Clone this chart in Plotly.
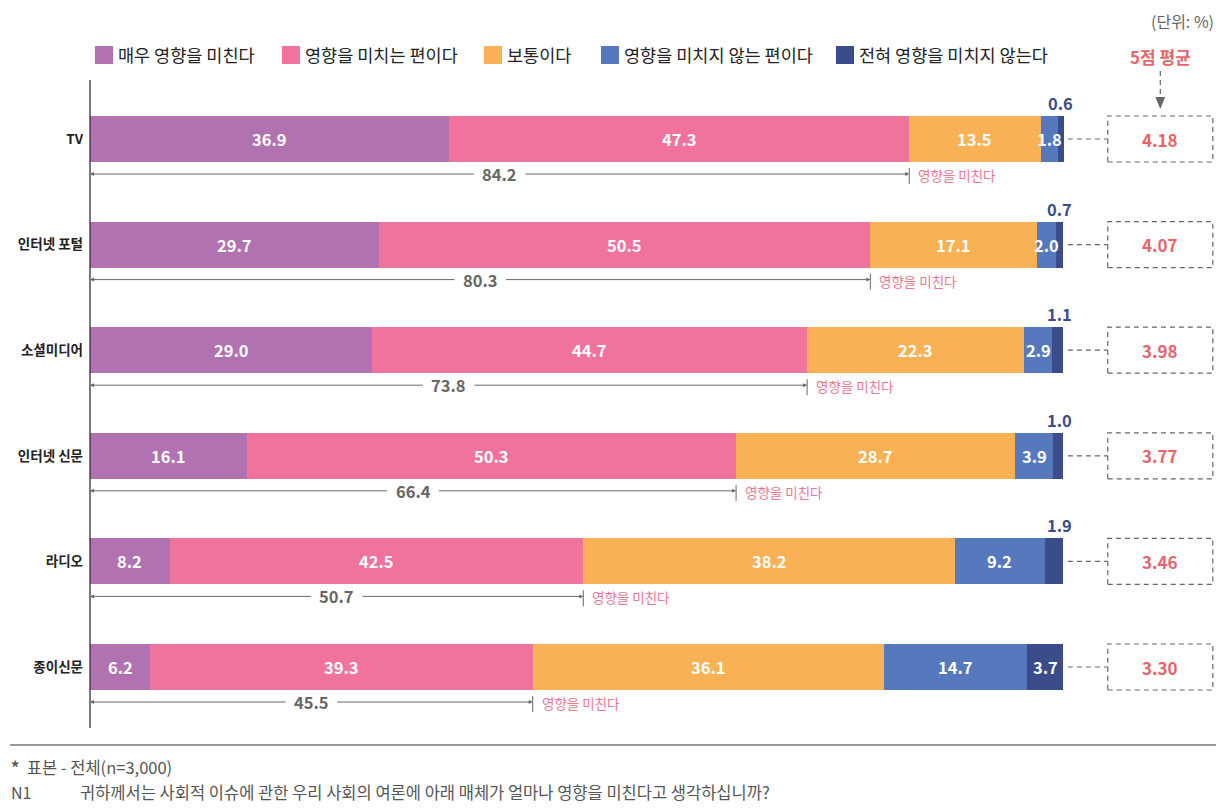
import plotly.graph_objects as go

# 데이터 (단위: %)
media = ["TV", "인터넷 포털", "소셜미디어", "인터넷 신문", "라디오", "종이신문"]
levels = ["매우 영향을 미친다", "영향을 미치는 편이다", "보통이다",
          "영향을 미치지 않는 편이다", "전혀 영향을 미치지 않는다"]
very = [36.9, 29.7, 29.0, 16.1, 8.2, 6.2]
somewhat = [47.3, 50.5, 44.7, 50.3, 42.5, 39.3]
neutral = [13.5, 17.1, 22.3, 28.7, 38.2, 36.1]
not_much = [1.8, 2.0, 2.9, 3.9, 9.2, 14.7]
not_at_all = [0.6, 0.7, 1.1, 1.0, 1.9, 3.7]
influence = [84.2, 80.3, 73.8, 66.4, 50.7, 45.5]
avg5 = ["4.18", "4.07", "3.98", "3.77", "3.46", "3.30"]

series = [very, somewhat, neutral, not_much, not_at_all]
colors = ["#b072b0", "#f0739e", "#f9b155", "#5679bd", "#3a4c8a"]

KR = "Noto Sans CJK KR"
GRAY = "#666666"
RED = "#e8636b"
OFF = 8                        # 페이지 body 여백
W, H = 1231 - OFF, 808 - OFF
L = 90 - OFF
XMAX = (W - L) / 9.73          # 100% 막대 = 973px
BOX_X0, BOX_X1 = 104.6, 115.4  # 평균 박스 위치 (x축 단위)
BOX_C = (BOX_X0 + BOX_X1) / 2
Y0, STEP = 139 - OFF, 105.6
GAP = 2.5                      # 화살표 가운데 숫자 자리 (x축 단위)
DASH = "5px,4px"


def py(pix):
    return 1 - (pix - OFF) / H


def px(pix):
    return (pix - OFF - L) / (W - L)


idx = list(range(len(media)))
fig = go.Figure()
for name, vals, col in zip(levels, series, colors):
    fig.add_trace(go.Bar(
        y=idx, x=vals, name=name, orientation="h",
        marker=dict(color=col, line=dict(width=0)),
        width=0.436, showlegend=False, hoverinfo="x",
    ))

ann = []
shapes = []
for i in idx:
    left = 0
    for k, vals in enumerate(series):
        v = vals[i]
        mid = left + v / 2
        if k == 4 and v < 2:
            ann.append(dict(x=left + v - 0.4, y=i, text=f"<b>{v:.1f}</b>", showarrow=False,
                            yshift=36, font=dict(family=KR, size=16.5, color="#3a4c8a")))
        else:
            ann.append(dict(x=mid, y=i, text=f"<b>{v:.1f}</b>", showarrow=False,
                            font=dict(family=KR, size=16.5, color="white")))
        left += v
    # 영향을 미친다 양방향 화살표
    end = very[i] + somewhat[i]
    for tip, tail in [(0, end / 2 - GAP), (end, end / 2 + GAP)]:
        ann.append(dict(x=tip, y=i, ax=tail, ay=i, axref="x", ayref="y", text="",
                        showarrow=True, arrowhead=2, arrowsize=0.8, arrowwidth=1,
                        arrowcolor=GRAY, standoff=0, startstandoff=0, yshift=-35))
    ann.append(dict(x=end / 2, y=i, text=f"<b>{influence[i]:.1f}</b>", showarrow=False,
                    yshift=-35, font=dict(family=KR, size=16.5, color=GRAY)))
    ann.append(dict(x=end, y=i, text="영향을 미친다", showarrow=False, xanchor="left",
                    xshift=7, yshift=-36, font=dict(family=KR, size=13.5, color="#ec7890")))
    shapes.append(dict(type="line", xref="x", yref="y", ysizemode="pixel", yanchor=i,
                       x0=end, x1=end, y0=-29, y1=-45, line=dict(color=GRAY, width=1)))
    # 평균 박스
    shapes.append(dict(type="line", xref="x", yref="y", x0=100.5, x1=BOX_X0, y0=i, y1=i,
                       line=dict(color=GRAY, width=1.2, dash=DASH)))
    shapes.append(dict(type="rect", xref="x", yref="y", ysizemode="pixel", yanchor=i,
                       x0=BOX_X0, x1=BOX_X1, y0=-23, y1=23,
                       line=dict(color=GRAY, width=1.2, dash=DASH)))
    ann.append(dict(x=BOX_C, y=i, text=f"<b>{avg5[i]}</b>", showarrow=False,
                    font=dict(family=KR, size=17, color=RED)))

# 범례 (수동)
legend_x = [95, 282, 484, 601, 836]
for lx, name, col in zip(legend_x, levels, colors):
    shapes.append(dict(type="rect", xref="paper", yref="paper",
                       x0=px(lx), x1=px(lx + 18), y0=py(64), y1=py(46),
                       fillcolor=col, line=dict(width=0)))
    ann.append(dict(x=px(lx + 21), y=py(55), xref="paper", yref="paper", text=name,
                    showarrow=False, xanchor="left", yanchor="middle",
                    font=dict(family=KR, size=17.5, color="#222222")))

# 5점 평균 헤더
ann.append(dict(x=BOX_C, y=py(56), xref="x", yref="paper", text="<b>5점 평균</b>",
                showarrow=False, yanchor="middle", font=dict(family=KR, size=17, color=RED)))
shapes.append(dict(type="line", xref="x", yref="paper", x0=BOX_C, x1=BOX_C,
                   y0=py(71), y1=py(99), line=dict(color=GRAY, width=1.2, dash=DASH)))
shapes.append(dict(type="path", xref="x", yref="paper",
                   path=f"M {BOX_C - 0.5} {py(97)} L {BOX_C + 0.5} {py(97)} L {BOX_C} {py(109)} Z",
                   fillcolor=GRAY, line=dict(width=0)))
ann.append(dict(x=px(1216), y=py(21), xref="paper", yref="paper", text="(단위: %)",
                showarrow=False, xanchor="right", yanchor="middle",
                font=dict(family=KR, size=16, color=GRAY)))

# 축선과 하단 구분선
shapes.append(dict(type="line", xref="paper", yref="paper", x0=0, x1=0,
                   y0=py(80), y1=py(728), line=dict(color="#222222", width=1.2)))
shapes.append(dict(type="line", xref="paper", yref="paper", x0=px(10), x1=px(1216),
                   y0=py(745), y1=py(745), line=dict(color="#333333", width=1.2)))

# 각주
ann.append(dict(x=px(9), y=py(767), xref="paper", yref="paper", xanchor="left", yanchor="middle",
                text="<b>*</b>  표본 - 전체(n=3,000)", showarrow=False,
                font=dict(family=KR, size=16.5, color="#555555")))
ann.append(dict(x=px(9), y=py(792), xref="paper", yref="paper", xanchor="left", yanchor="middle",
                text="N1", showarrow=False, font=dict(family=KR, size=16, color="#555555")))
ann.append(dict(x=px(78), y=py(792), xref="paper", yref="paper", xanchor="left", yanchor="middle",
                text="귀하께서는 사회적 이슈에 관한 우리 사회의 여론에 아래 매체가 얼마나 영향을 미친다고 생각하십니까?",
                showarrow=False, font=dict(family=KR, size=16.5, color="#555555")))

fig.update_layout(
    barmode="stack", width=W, height=H,
    margin=dict(l=L, r=0, t=0, b=0),
    plot_bgcolor="white", paper_bgcolor="white",
    annotations=ann, shapes=shapes, showlegend=False,
    font=dict(family=KR),
)
fig.update_xaxes(range=[0, XMAX], visible=False, fixedrange=True)
fig.update_yaxes(range=[(H - Y0) / STEP, -Y0 / STEP], tickmode="array",
                 tickvals=idx, ticktext=[f"<b>{m}</b>" for m in media],
                 tickfont=dict(family=KR, size=13.5, color="#222222"),
                 showgrid=False, zeroline=False, showline=False, ticks="",
                 ticklabelstandoff=6, fixedrange=True)

fig.write_html("out.html")
